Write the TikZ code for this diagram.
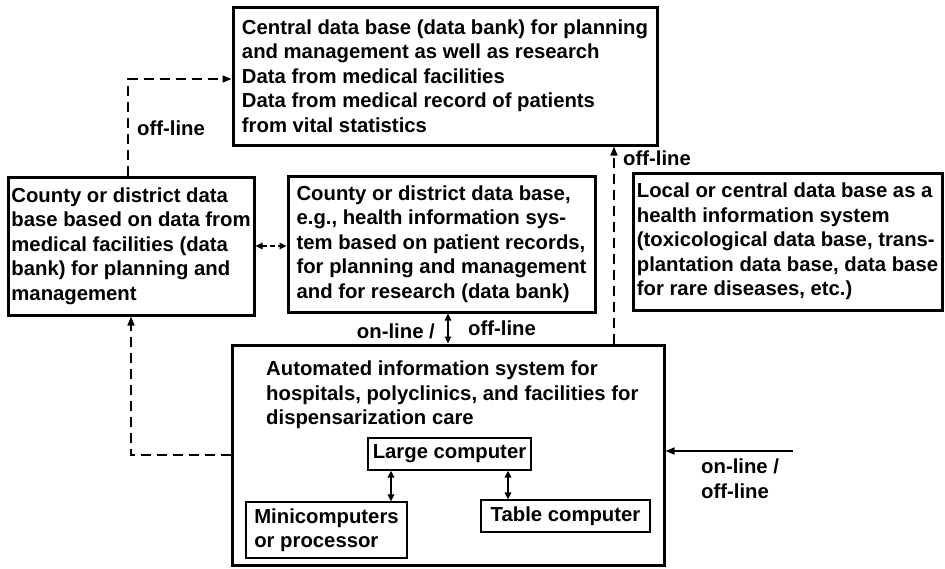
\documentclass[tikz,border=0pt]{standalone}
\usepackage{fontspec}
\setmainfont{Liberation Sans}
\usetikzlibrary{arrows.meta}
\begin{document}
\begin{tikzpicture}[x=1pt,y=-1pt,
  font=\fontsize{20.3}{24.5}\selectfont\bfseries,
  bigbox/.style={draw, line width=3pt, inner sep=0pt, align=left, rectangle},
  smallbox/.style={draw, line width=1.3pt, inner sep=0pt, align=left, rectangle},
  conn/.style={line width=1.5pt},
  dconn/.style={conn, dash pattern=on 10pt off 6pt},
  lbl/.style={inner sep=0pt, align=left},
  tipsm/.style={{Triangle[length=7pt,width=6.5pt]}-{Triangle[length=7pt,width=6.5pt]}},
  >={Triangle[length=9pt,width=7pt]}]
\fill[white] (0,0) rectangle (945,568);
\useasboundingbox (0,0) rectangle (945,568);

\node[bigbox, minimum width=424pt, minimum height=138pt] (central) at (445,76)
 {Central data base (data bank) for planning\\and management as well as research\\Data from medical facilities\\Data from medical record of patients\\from vital statistics};
\node[bigbox, minimum width=246pt, minimum height=138pt] (left) at (131,246)
 {County or district data\\base based on data from\\medical facilities (data\\bank) for planning and\\management};
\node[bigbox, minimum width=307pt, minimum height=136pt] (middle) at (441.5,244)
 {County or district data base,\\e.g., health information sys-\\tem based on patient records,\\for planning and management\\and for research (data bank)};
\node[bigbox, minimum width=309pt, minimum height=137pt] (right) at (787.5,241.5)
 {Local or central data base as a\\health information system\\(toxicological data base, trans-\\plantation data base, data base\\for rare diseases, etc.)};
\node[bigbox, minimum width=432pt, minimum height=220pt] (auto) at (448,455) {};
\node[lbl, anchor=north west] (autotitle) at (266,361)
 {Automated information system for\\hospitals, polyclinics, and facilities for\\dispensarization care};
\node[smallbox, minimum width=163pt, minimum height=32pt] (large) at (449.5,454) {Large computer};
\node[smallbox, minimum width=161pt, minimum height=56pt] (mini) at (326.5,530) {Minicomputers\\or processor};
\node[smallbox, minimum width=169pt, minimum height=32pt] (table) at (565.5,516) {Table computer};

% off-line: left box -> central
\draw[dconn,->] ([xshift=-3pt]left.north) |- ([yshift=-3pt]central.west);
\node[lbl, anchor=west] (l1) at (137,128) {off-line};

% left <-> middle
\draw[conn, dash pattern=on 5pt off 3pt, tipsm] (left.east) -- (left.east -| middle.west);

% middle <-> automated
\draw[conn,tipsm] ([xshift=6.5pt]middle.south) -- ([xshift=6.5pt]middle.south |- auto.north);
\node[lbl, anchor=east] (l2) at (435,331) {on-line /};
\node[lbl, anchor=west] (l3) at (468,328) {off-line};

% automated -> left box
\draw[dconn,->] (auto.west) -| (left.south);

% automated -> central
\coordinate (vx) at (614,0);
\draw[dconn,->] (auto.north -| vx) -- (central.south -| vx);
\node[lbl, anchor=west] (l4) at (623,158) {off-line};

% external input
\coordinate (inR) at (793,451);
\draw[conn,->] (inR) -- (inR -| auto.east);
\node[lbl, anchor=north west] (l5) at (701,459) {on-line /\\off-line};

% computers
\coordinate (c1) at (391,0);
\coordinate (c2) at (508,0);
\draw[conn,tipsm] (large.south -| c1) -- (mini.north -| c1);
\draw[conn,tipsm] (large.south -| c2) -- (table.north -| c2);
\end{tikzpicture}
\end{document}
